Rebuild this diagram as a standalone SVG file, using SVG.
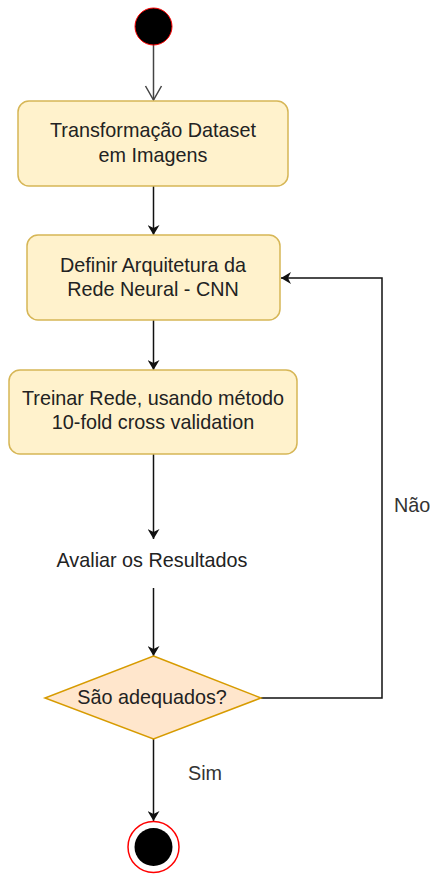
<svg xmlns="http://www.w3.org/2000/svg" width="430" height="875" viewBox="0 0 430 875">
<style>
.box{fill:#fff2cc;stroke:#d6b656;stroke-width:1.5}
.dia{fill:#ffe6cc;stroke:#d79b00;stroke-width:1.5}
.t{font-family:"Liberation Sans",Arial,sans-serif;font-size:19.8px;fill:#222;text-anchor:middle}
.l{font-family:"Liberation Sans",Arial,sans-serif;font-size:19.8px;fill:#333}
.e{fill:none;stroke:#111;stroke-width:1.5}
</style>
<defs>
<marker id="a" markerWidth="12" markerHeight="12" refX="10" refY="6" orient="auto" markerUnits="userSpaceOnUse">
<path d="M0,0 L10,6 L0,12 L3,6 Z" fill="#111"/>
</marker>
<marker id="o" markerWidth="20" markerHeight="20" refX="16" refY="10" orient="auto" markerUnits="userSpaceOnUse">
<path d="M2,2 L16,10 L2,18" fill="none" stroke="#444" stroke-width="1.5"/>
</marker>
</defs>
<rect width="430" height="875" fill="#fff"/>
<g id="edges">
<line x1="153.5" y1="45" x2="153.5" y2="100" stroke="#444" stroke-width="1.5" marker-end="url(#o)"/>
<line class="e" x1="153.5" y1="186" x2="153.5" y2="235" marker-end="url(#a)"/>
<line class="e" x1="153.5" y1="320" x2="153.5" y2="370" marker-end="url(#a)"/>
<line class="e" x1="153.5" y1="454" x2="153.5" y2="539" marker-end="url(#a)"/>
<line class="e" x1="153.5" y1="588" x2="153.5" y2="656" marker-end="url(#a)"/>
<line class="e" x1="153.5" y1="739" x2="153.5" y2="821" marker-end="url(#a)"/>
<polyline class="e" points="261,698 382,698 382,278 281,278" marker-end="url(#a)"/>
<text class="l" x="394" y="512">Não</text>
<text class="l" x="188" y="780">Sim</text>
</g>
<g id="start"><circle cx="153.5" cy="26.5" r="18.5" fill="#000" stroke="#ff0000" stroke-width="1"/></g>
<g id="n1"><rect class="box" x="18" y="101" width="270" height="85" rx="11"/>
<text class="t" x="153" y="137">Transformação Dataset</text>
<text class="t" x="153" y="162">em Imagens</text></g>
<g id="n2"><rect class="box" x="27" y="235" width="253" height="85" rx="11"/>
<text class="t" x="153" y="272">Definir Arquitetura da</text>
<text class="t" x="153" y="296">Rede Neural - CNN</text></g>
<g id="n3"><rect class="box" x="9" y="370" width="288" height="84" rx="11"/>
<text class="t" x="153" y="405">Treinar Rede, usando método</text>
<text class="t" x="153" y="429">10-fold cross validation</text></g>
<g id="n4"><text class="t" x="152" y="567">Avaliar os Resultados</text></g>
<g id="n5"><polygon class="dia" points="153.5,656 261,698 153.5,739 45,698"/>
<text class="t" x="152" y="704">São adequados?</text></g>
<g id="end"><circle cx="153.5" cy="847" r="25.5" fill="#fff" stroke="#ff0000" stroke-width="1.5"/>
<circle cx="153.5" cy="847" r="19" fill="#000"/></g>
</svg>
